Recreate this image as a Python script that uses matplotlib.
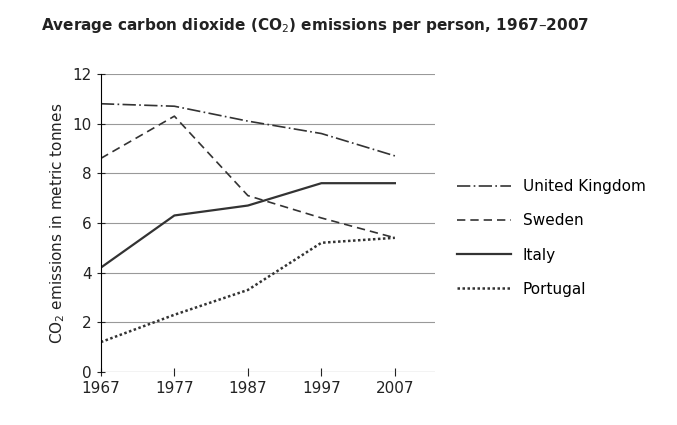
import matplotlib.pyplot as plt

years = [1967, 1977, 1987, 1997, 2007]
uk = [10.8, 10.7, 10.1, 9.6, 8.7]
sweden = [8.6, 10.3, 7.1, 6.2, 5.4]
italy = [4.2, 6.3, 6.7, 7.6, 7.6]
portugal = [1.2, 2.3, 3.3, 5.2, 5.4]

fig = plt.figure(figsize=(6.77, 4.25), dpi=100)
ax = fig.add_axes([0.149, 0.125, 0.494, 0.701])
c = '#333333'
ax.plot(years, uk, color=c, lw=1.2, ls=(0, (8, 2, 1, 2)), label='United Kingdom')
ax.plot(years, sweden, color=c, lw=1.2, ls=(0, (5, 3)), label='Sweden')
ax.plot(years, italy, color=c, lw=1.6, ls='-', label='Italy')
ax.plot(years, portugal, color=c, lw=1.8, ls=(0, (1, 1)), label='Portugal')

ax.set_xlim(1967, 2012.5)
ax.set_ylim(0, 12)
ax.set_xticks(years)
ax.set_yticks(range(0, 13, 2))
ax.grid(axis='y', color='#999999', lw=0.8)
ax.tick_params(labelsize=11, colors='#222222', direction='inout', length=6)
for s in ['top', 'right']:
    ax.spines[s].set_visible(False)
ax.spines['bottom'].set_visible(False)
ax.axhline(0, color='#999999', lw=0.8)
ax.set_ylabel('CO$_2$ emissions in metric tonnes', fontsize=11, color='#222222')
fig.text(0.06, 0.93, 'Average carbon dioxide (CO$_2$) emissions per person, 1967\u20132007',
         fontsize=11, fontweight='bold', color='#222222')
fig.legend(loc='center left', bbox_to_anchor=(0.655, 0.44), frameon=False,
           fontsize=11, handlelength=3.5, labelspacing=1.25)
fig.savefig('out.png')
